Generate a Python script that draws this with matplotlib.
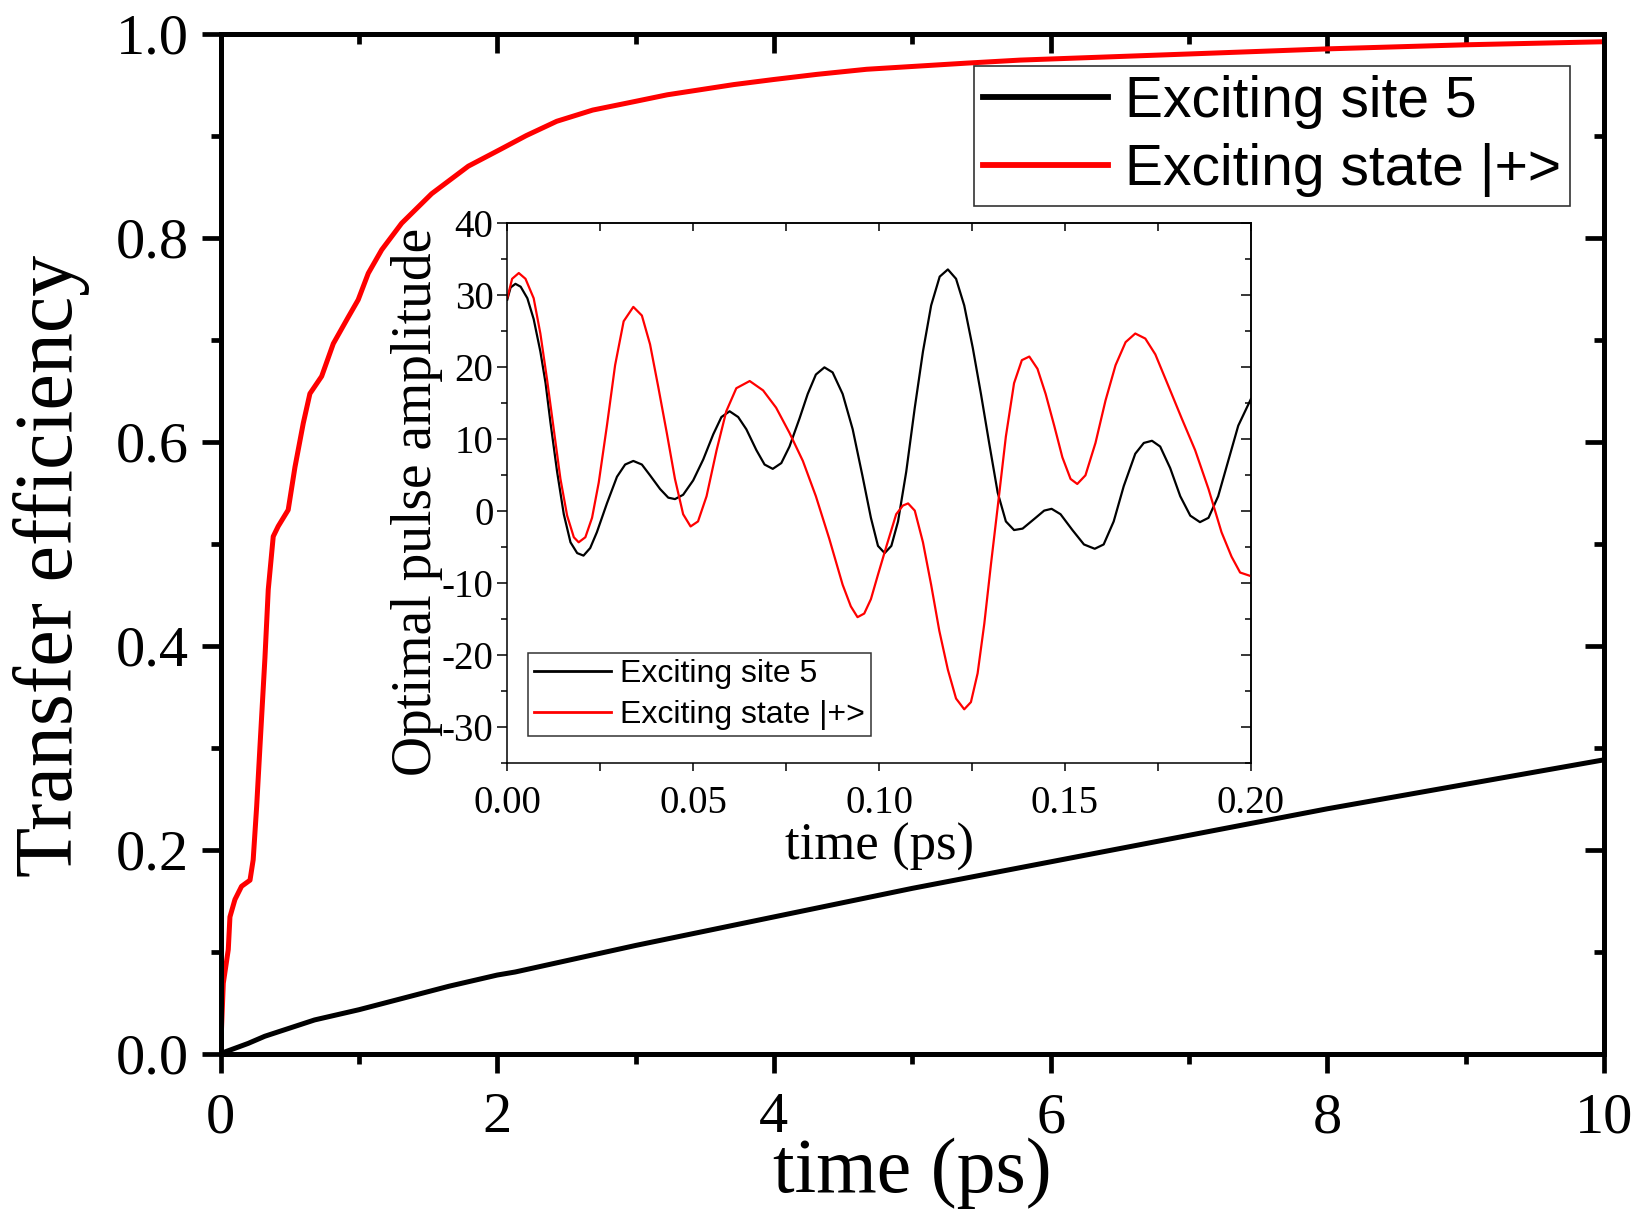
import matplotlib
matplotlib.use("Agg")
import matplotlib.pyplot as plt
from matplotlib.ticker import MultipleLocator, FormatStrFormatter

plt.rcParams["font.family"] = ["Liberation Serif", "DejaVu Serif"]
plt.rcParams["axes.unicode_minus"] = False

# main panel: transfer efficiency vs time (ps)
site5_t = [0, 0.2, 0.32, 0.68, 1.0, 1.17, 1.65, 2.0, 2.13, 3, 4, 5, 6, 7, 8, 9, 10]
site5_eff = [0, 0.010, 0.017, 0.033, 0.043, 0.049, 0.066, 0.077, 0.080, 0.106,
             0.134, 0.162, 0.188, 0.214, 0.240, 0.264, 0.288]

plus_t = [0, 0.020, 0.056, 0.068, 0.104, 0.152, 0.213, 0.236, 0.261, 0.285, 0.321,
          0.345, 0.381, 0.417, 0.489, 0.538, 0.598, 0.646, 0.731, 0.815, 0.923, 0.995,
          1.068, 1.165, 1.309, 1.526, 1.791, 2.03, 2.21, 2.43, 2.69, 2.98, 3.23, 3.47,
          3.71, 4.0, 4.31, 4.67, 5.03, 5.39, 5.78, 7.0, 8.0, 9.0, 10.0]
plus_eff = [0, 0.069, 0.102, 0.134, 0.151, 0.164, 0.170, 0.190, 0.242, 0.301, 0.388,
            0.455, 0.507, 0.517, 0.533, 0.575, 0.618, 0.647, 0.664, 0.696, 0.722, 0.739,
            0.765, 0.788, 0.814, 0.843, 0.870, 0.887, 0.900, 0.914, 0.925, 0.933, 0.940,
            0.945, 0.950, 0.955, 0.960, 0.965, 0.968, 0.971, 0.974, 0.980, 0.985, 0.989,
            0.992]

# inset: optimal pulse amplitude vs time (ps)
pulse5_t = [0, 0.0009, 0.0022, 0.0036, 0.0054, 0.0071, 0.0089, 0.0103, 0.0116, 0.0134,
            0.0152, 0.017, 0.0188, 0.0205, 0.0223, 0.0241, 0.0268, 0.0295, 0.0317,
            0.0339, 0.0362, 0.0384, 0.0411, 0.0433, 0.0451, 0.0473, 0.05, 0.0527,
            0.0554, 0.0576, 0.0598, 0.0621, 0.0643, 0.067, 0.0692, 0.0714, 0.0737,
            0.0759, 0.0786, 0.0808, 0.083, 0.0853, 0.0875, 0.0902, 0.0929, 0.0955,
            0.0978, 0.0997, 0.1015, 0.1033, 0.1051, 0.1073, 0.1096, 0.1118, 0.114,
            0.1163, 0.1185, 0.1207, 0.1229, 0.1252, 0.1274, 0.1296, 0.1319, 0.1341,
            0.1363, 0.1386, 0.1421, 0.1444, 0.1464, 0.1488, 0.152, 0.1551, 0.158,
            0.1604, 0.1631, 0.1658, 0.1689, 0.1712, 0.1734, 0.1756, 0.1783, 0.181,
            0.1837, 0.1863, 0.1886, 0.1912, 0.1939, 0.1966, 0.2]
pulse5_amp = [29.3, 31.0, 31.5, 31.1, 29.5, 26.6, 22.1, 17.7, 12.3, 5.4,
              -0.5, -4.4, -5.9, -6.25, -5.2, -3.0, 1.0, 4.7, 6.4,
              6.9, 6.4, 4.9, 3.0, 1.8, 1.6, 2.2, 4.2, 7.1,
              10.6, 13.0, 13.8, 13.0, 11.3, 8.4, 6.4, 5.8, 6.6,
              8.9, 12.8, 16.2, 18.9, 19.9, 19.2, 16.2, 11.3, 4.9,
              -1.0, -4.9, -5.9, -4.9, -1.5, 5.4, 14.3, 22.1, 28.5,
              32.5, 33.5, 32.2, 28.5, 22.6, 16.2, 9.4, 2.5, -1.5,
              -2.7, -2.5, -1.0, 0.0, 0.25, -0.5, -2.7, -4.7, -5.3,
              -4.7, -1.5, 3.4, 7.9, 9.4, 9.7, 8.9, 5.9, 2.0,
              -0.7, -1.6, -1.0, 2.0, 6.9, 11.8, 15.5]

pulse_plus_t = [0, 0.0013, 0.0031, 0.0049, 0.0071, 0.0089, 0.0107, 0.0125, 0.0143,
                0.0161, 0.0179, 0.0192, 0.021, 0.0228, 0.0246, 0.0268, 0.029, 0.0313,
                0.0339, 0.0362, 0.0384, 0.0406, 0.0429, 0.0451, 0.0473, 0.0493,
                0.0513, 0.0536, 0.0563, 0.0589, 0.0616, 0.0652, 0.0688, 0.0723,
                0.0759, 0.0795, 0.083, 0.0866, 0.0902, 0.0924, 0.0942, 0.096, 0.0978,
                0.0997, 0.102, 0.1046, 0.1064, 0.1078, 0.1096, 0.1118, 0.114, 0.1162,
                0.1185, 0.1207, 0.1229, 0.1247, 0.1265, 0.1283, 0.1301, 0.1319,
                0.1341, 0.1363, 0.1384, 0.1404, 0.1426, 0.1448, 0.1471, 0.1493,
                0.1515, 0.1533, 0.1555, 0.1582, 0.1609, 0.1636, 0.1663, 0.1689,
                0.1716, 0.1743, 0.1779, 0.1814, 0.185, 0.1886, 0.1921, 0.1948,
                0.1971, 0.2]
pulse_plus_amp = [29.5, 32.2, 33.0, 32.2, 29.5, 24.6, 18.2, 11.3, 4.4,
                  -0.7, -3.7, -4.4, -3.7, -1.0, 3.9, 11.8, 20.2, 26.3,
                  28.3, 27.1, 23.1, 17.2, 10.8, 4.4, -0.5, -2.2,
                  -1.5, 2.0, 8.4, 13.8, 17.0, 18.0, 16.7, 14.3,
                  10.8, 6.9, 2.0, -3.9, -10.3, -13.3, -14.8, -14.3, -12.3,
                  -8.9, -4.9, -0.5, 0.7, 1.0, 0.0, -4.4, -10.3, -16.7,
                  -22.1, -26.1, -27.6, -26.6, -22.6, -15.7, -7.4, 0.5,
                  10.3, 17.7, 20.9, 21.4, 19.7, 16.2, 11.8, 7.4,
                  4.4, 3.7, 4.9, 9.4, 15.3, 20.2, 23.4, 24.6,
                  23.9, 21.7, 17.2, 12.8, 8.4, 3.0, -3.0, -6.4,
                  -8.6, -9.1]

labels = ["Exciting site 5", "Exciting state |+>"]
colors = ["black", "#ff0000"]

fig = plt.figure(figsize=(16.47, 12.12), dpi=100)
ax = fig.add_axes([0.1339, 0.1307, 0.8400, 0.8416])

ax.plot(site5_t, site5_eff, color=colors[0], lw=3.6, label=labels[0])
ax.plot(plus_t, plus_eff, color=colors[1], lw=3.6, label=labels[1])
ax.set_xlim(0, 10)
ax.set_ylim(0, 1.0)
ax.xaxis.set_major_locator(MultipleLocator(2))
ax.xaxis.set_minor_locator(MultipleLocator(1))
ax.yaxis.set_major_locator(MultipleLocator(0.2))
ax.yaxis.set_minor_locator(MultipleLocator(0.1))
ax.yaxis.set_major_formatter(FormatStrFormatter("%.1f"))
for sp in ax.spines.values():
    sp.set_linewidth(3.6)
ax.tick_params(which="both", direction="out", width=3.4, top=False, right=False,
               labelsize=42)
ax.tick_params(which="major", length=14)
ax.tick_params(which="minor", length=7)
ax.tick_params(axis="x", pad=14)
ax.tick_params(axis="y", pad=9)

# mirrored axes with inward ticks
top = ax.secondary_xaxis("top")
top.xaxis.set_major_locator(MultipleLocator(2))
top.xaxis.set_minor_locator(MultipleLocator(1))
top.tick_params(which="both", direction="in", width=3.4, labeltop=False)
top.tick_params(which="major", length=14)
top.tick_params(which="minor", length=7)
top.spines["top"].set_linewidth(3.6)
right = ax.secondary_yaxis("right")
right.yaxis.set_major_locator(MultipleLocator(0.2))
right.yaxis.set_minor_locator(MultipleLocator(0.1))
right.tick_params(which="both", direction="in", width=3.4, labelright=False)
right.tick_params(which="major", length=14)
right.tick_params(which="minor", length=7)
right.spines["right"].set_linewidth(3.6)

ax.set_xlabel("time (ps)", fontsize=56)
ax.xaxis.set_label_coords(0.5, -0.082)
ax.xaxis.label.set_va("top")
ax.set_ylabel("Transfer efficiency", fontsize=59)
ax.yaxis.set_label_coords(-0.0944, 0.478)

leg = ax.legend(loc="upper right", bbox_to_anchor=(0.9754, 0.968), borderaxespad=0,
                prop={"family": "Liberation Sans", "size": 41}, frameon=True,
                fancybox=False, handlelength=2.2, handletextpad=0.3,
                borderpad=0.15, labelspacing=0.25)
leg.get_frame().set_edgecolor("black")
leg.get_frame().set_linewidth(1.2)
for h in leg.get_lines():
    h.set_linewidth(4.2)

# inset
ins = fig.add_axes([0.3080, 0.3708, 0.4515, 0.4455])
ins.plot(pulse5_t, pulse5_amp, color=colors[0], lw=1.6, label=labels[0])
ins.plot(pulse_plus_t, pulse_plus_amp, color=colors[1], lw=1.6, label=labels[1])
ins.set_xlim(0, 0.2)
ins.set_ylim(-35, 40)
ins.xaxis.set_major_locator(MultipleLocator(0.05))
ins.xaxis.set_minor_locator(MultipleLocator(0.025))
ins.xaxis.set_major_formatter(FormatStrFormatter("%.2f"))
ins.yaxis.set_major_locator(MultipleLocator(10))
ins.yaxis.set_minor_locator(MultipleLocator(5))
for sp in ins.spines.values():
    sp.set_linewidth(1.1)
ins.tick_params(which="both", direction="out", width=1.1, top=False, right=False,
                labelsize=28)
ins.tick_params(axis="x", which="both", length=6)
ins.tick_params(axis="y", which="major", length=7)
ins.tick_params(axis="y", which="minor", length=4.5)
ins.tick_params(axis="x", pad=10)
ins.tick_params(axis="y", pad=3)

itop = ins.secondary_xaxis("top")
itop.xaxis.set_major_locator(MultipleLocator(0.05))
itop.xaxis.set_minor_locator(MultipleLocator(0.025))
itop.tick_params(which="both", direction="in", width=1.1, length=6, labeltop=False)
itop.spines["top"].set_linewidth(1.1)
iright = ins.secondary_yaxis("right")
iright.yaxis.set_major_locator(MultipleLocator(10))
iright.yaxis.set_minor_locator(MultipleLocator(5))
iright.tick_params(which="major", direction="in", width=1.1, length=7, labelright=False)
iright.tick_params(which="minor", direction="in", width=1.1, length=4.5)
iright.spines["right"].set_linewidth(1.1)

ins.set_xlabel("time (ps)", fontsize=38)
ins.xaxis.set_label_coords(0.5, -0.111)
ins.xaxis.label.set_va("top")
ins.set_ylabel("Optimal pulse amplitude", fontsize=40)
ins.yaxis.set_label_coords(-0.0865, 0.483)

ileg = ins.legend(loc="lower left", bbox_to_anchor=(0.028, 0.049), borderaxespad=0,
                  prop={"family": "Liberation Sans", "size": 23}, frameon=True,
                  fancybox=False, handlelength=2.4, handletextpad=0.3,
                  borderpad=0.18, labelspacing=0.35)
ileg.get_frame().set_edgecolor("black")
ileg.get_frame().set_linewidth(1.1)
for h in ileg.get_lines():
    h.set_linewidth(2.0)

fig.savefig("out.png", dpi=100)
